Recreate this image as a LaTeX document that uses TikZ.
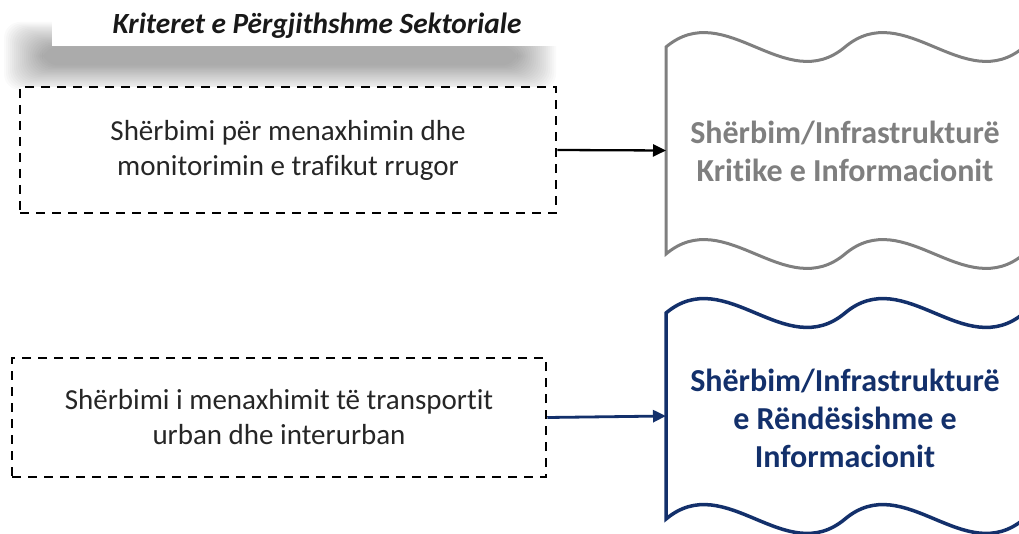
\documentclass[tikz,border=0pt]{standalone}
\usepackage{fontspec}
\setmainfont{Carlito}[Ligatures=NoCommon]
\usetikzlibrary{arrows.meta}
\definecolor{critgray}{HTML}{7F7F7F}
\definecolor{navy}{HTML}{13306B}
\tikzset{
  dashbox/.style={draw=black, line width=2.5pt, dash pattern=on 9pt off 7pt, fill=white, align=center, inner sep=0pt,
    font=\fontsize{29}{35}\selectfont, text=black!85},
  wavetext/.style={align=center, font=\fontsize{32}{38}\selectfont\bfseries},
  conn/.style={line width=2.3pt, -{Triangle[length=13pt,width=12pt]}},
}
\begin{document}
\begin{tikzpicture}[x=1pt,y=-1pt]
\useasboundingbox (0,0) rectangle (1019,534);
\clip (0,0) rectangle (1019,534);
% title shadow
\foreach \i in {0,...,19}{
  \fill[black, opacity=0.02, rounded corners=16pt] (4+2*\i,22+1.3*\i) rectangle (556-2*\i,90-1.3*\i);
}
\fill[white] (52,0) rectangle (560,46);
\node[font=\fontsize{29.3}{34}\selectfont\bfseries\itshape, text=black!90] (title) at (317,26) {Kriteret e Përgjithshme Sektoriale};
% dashed boxes
\node[dashbox, minimum width=536pt, minimum height=126pt] (s1) at (288,150) {Shërbimi për menaxhimin dhe\\monitorimin e trafikut rrugor};
\node[dashbox, minimum width=534pt, minimum height=119pt] (s2) at (279,417.5) {Shërbimi i menaxhimit të transportit\\urban dhe interurban};
% wave shapes
\draw[critgray, line width=3pt, fill=white, line join=miter]
  (666,47) .. controls (725.67,-3) and (785.33,97) .. (845,47)
  .. controls (904.67,-3) and (964.33,97) .. (1024,47)
  -- (1024,254)
  .. controls (964.33,304) and (904.67,204) .. (845,254)
  .. controls (785.33,304) and (725.67,204) .. (666,254) -- cycle;
\draw[navy, line width=3.5pt, fill=white, line join=miter]
  (666,313) .. controls (725.67,263) and (785.33,363) .. (845,313)
  .. controls (904.67,263) and (964.33,363) .. (1024,313)
  -- (1024,519)
  .. controls (964.33,569) and (904.67,469) .. (845,519)
  .. controls (785.33,569) and (725.67,469) .. (666,519) -- cycle;
\node[wavetext, text=critgray] (crit) at (845,151) {Shërbim/Infrastrukturë\\Kritike e Informacionit};
\node[wavetext, text=navy] (rend) at (845,418) {Shërbim/Infrastrukturë\\e Rëndësishme e\\Informacionit};
\coordinate (w1) at (666,150.5);
\coordinate (w2) at (666,416);
% connectors
\draw[conn, black] (s1.east) -- (w1);
\draw[conn, navy, line width=2.8pt] (s2.east) -- (w2);
\end{tikzpicture}
\end{document}
